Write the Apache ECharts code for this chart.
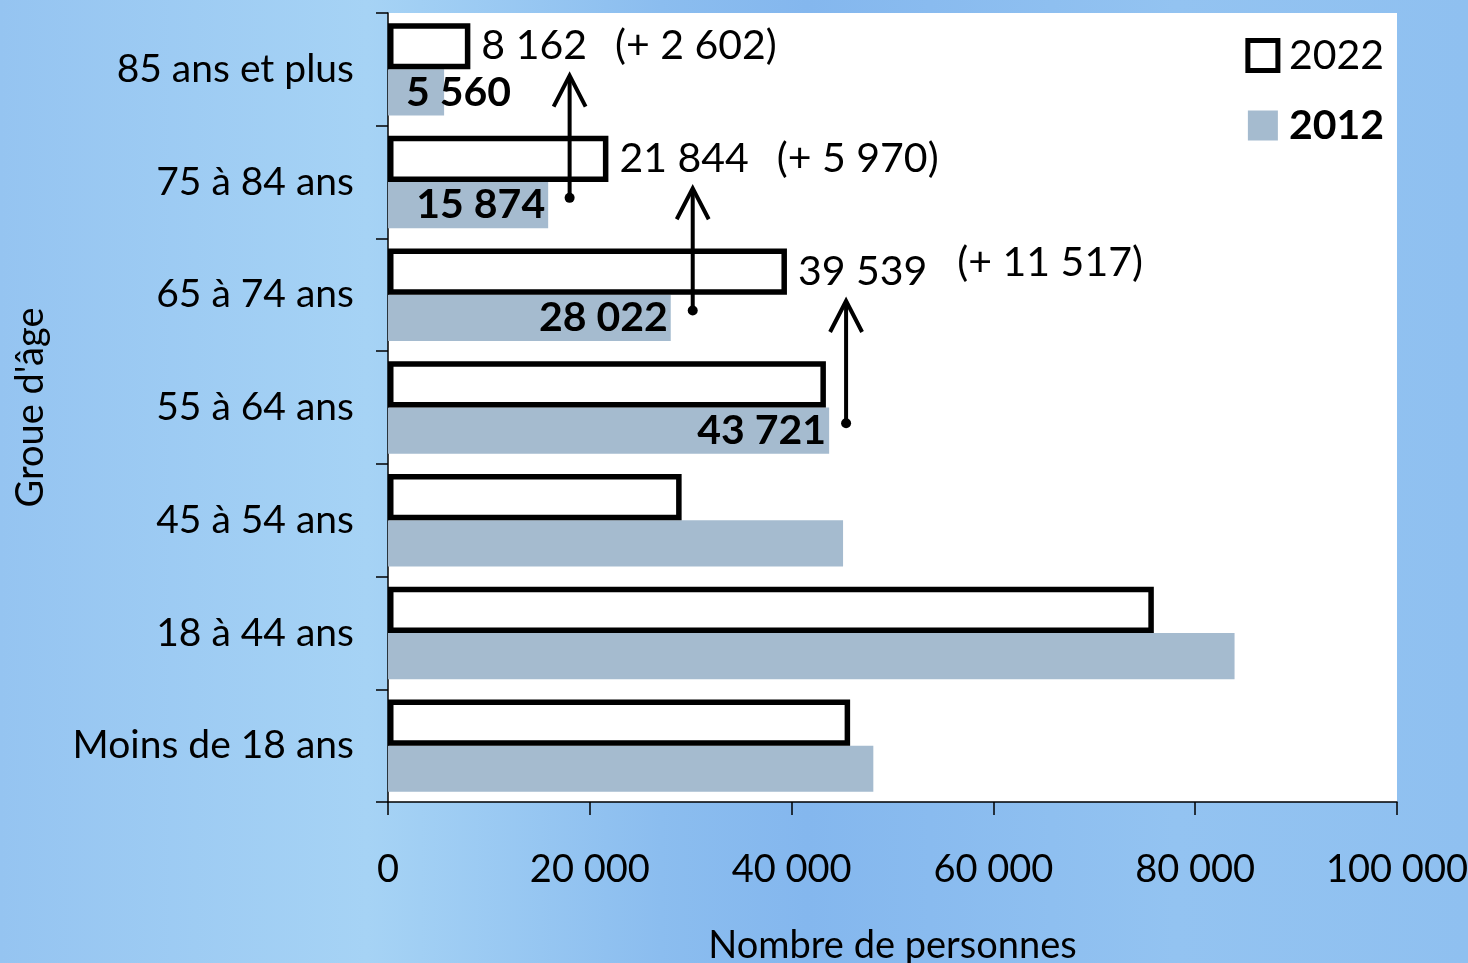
<!DOCTYPE html>
<html lang="fr">
<head>
<meta charset="utf-8">
<title>Groupes d'âge 2012 / 2022</title>
<script src="https://cdn.jsdelivr.net/npm/echarts@6.0.0/dist/echarts.min.js"></script>
<style>
  html, body { margin: 0; padding: 0; }
  body {
    width: 1468px; height: 963px; overflow: hidden;
    background: linear-gradient(90deg, #95c4f1 0%, #a6d3f5 25%, #8bbdef 45%, #84b7ee 55%, #93c3f1 80%, #8fc0f0 100%);
  }
  #chart { width: 1468px; height: 963px; }
</style>
</head>
<body>
<div id="chart"></div>
<script>
// Age groups, listed from top to bottom
const categories = ['85 ans et plus', '75 à 84 ans', '65 à 74 ans', '55 à 64 ans', '45 à 54 ans', '18 à 44 ans', 'Moins de 18 ans'];
// Number of people per age group
const values2022 = [8162, 21844, 39539, 43400, 29100, 75900, 45800];
const values2012 = [5560, 15874, 28022, 43721, 45100, 83900, 48100];
// Groups whose values are labelled (indices into categories)
const labelled2022 = [0, 1, 2];
const labelled2012 = [0, 1, 2, 3];
// Cohort arrows: x position on the value axis, and the 2012 group they start from
const arrowX = [18000, 30200, 45400];
const arrowFrom = [1, 2, 3];
// Axis ticks
const xTicks = [0, 20000, 40000, 60000, 80000, 100000];

const FONT = 'Lato';

function fmt(n) {
  return String(n).replace(/\B(?=(\d{3})+(?!\d))/g, ' ');
}

// Change of a group between 2012 and 2022
function growth(i) {
  return values2022[i] - values2012[i];
}

const data2022 = values2022.map(function (v, i) {
  const item = { value: v };
  if (labelled2022.indexOf(i) >= 0) {
    const upStyle = i === 2 ? 'dUp' : 'd';
    item.label = {
      show: true,
      position: 'right',
      distance: 11,
      formatter: '{v|' + fmt(v) + '}{' + upStyle + '|(+ ' + fmt(growth(i)) + ')}'
    };
  }
  return item;
});

const data2012 = values2012.map(function (v, i) {
  const item = { value: v };
  if (labelled2012.indexOf(i) >= 0) {
    item.label = {
      show: true,
      position: v < 10000 ? 'insideLeft' : 'insideRight',
      distance: v < 10000 ? 18 : 3,
      formatter: fmt(v)
    };
  }
  return item;
});

const arrowData = arrowX.map(function (x, k) { return [x, arrowFrom[k]]; });

const chart = echarts.init(document.getElementById('chart'), null, { renderer: 'canvas' });

chart.setOption({
  backgroundColor: 'transparent',
  animation: false,
  textStyle: { fontFamily: FONT, color: '#000' },
  grid: {
    left: 388, right: 71, top: 13, bottom: 161,
    containLabel: false,
    outerBoundsMode: 'none',
    show: true, backgroundColor: '#ffffff', borderWidth: 0
  },
  legend: {
    orient: 'vertical',
    right: 79,
    top: 30,
    itemWidth: 30,
    itemHeight: 30,
    itemGap: 29,
    icon: 'rect',
    textStyle: { fontFamily: FONT, fontSize: 41, color: '#000', padding: [0, 0, 0, 6] },
    data: [
      { name: '2022', itemStyle: { color: '#ffffff', borderColor: '#000', borderWidth: 5 } },
      { name: '2012', itemStyle: { color: '#a5bbcf', borderWidth: 0 }, textStyle: { fontWeight: 'bold' } }
    ]
  },
  xAxis: {
    type: 'value',
    min: 0,
    max: 100000,
    interval: 20000,
    name: 'Nombre de personnes',
    nameLocation: 'middle',
    nameGap: 125,
    nameTextStyle: { fontFamily: FONT, fontSize: 38, color: '#000', verticalAlign: 'top' },
    axisLine: { show: true, lineStyle: { color: '#000', width: 1.5 } },
    axisTick: { show: true, length: 13, lineStyle: { color: '#000', width: 1.5 } },
    splitLine: { show: false },
    axisLabel: {
      fontFamily: FONT, fontSize: 38, color: '#000', margin: 49,
      formatter: function (v) { return xTicks.indexOf(v) >= 0 ? fmt(v) : ''; }
    }
  },
  yAxis: {
    type: 'category',
    inverse: true,
    data: categories,
    name: "Groue d'âge",
    nameLocation: 'middle',
    nameGap: 338,
    nameTextStyle: { fontFamily: FONT, fontSize: 38, color: '#000' },
    axisLine: { show: true, lineStyle: { color: '#000', width: 1.5 } },
    axisTick: { show: true, length: 12, lineStyle: { color: '#000', width: 1.5 } },
    axisLabel: { fontFamily: FONT, fontSize: 39, color: '#000', margin: 34 }
  },
  series: [
    {
      name: '2022',
      type: 'bar',
      barGap: '0%',
      barCategoryGap: '18%',
      data: data2022,
      itemStyle: { color: '#ffffff', borderColor: '#000', borderWidth: 5.5 },
      label: {
        color: '#000',
        rich: {
          v: { fontFamily: FONT, fontSize: 41, color: '#000' },
          d: { fontFamily: FONT, fontSize: 41, color: '#000', padding: [0, 0, 0, 28] },
          dUp: { fontFamily: FONT, fontSize: 41, color: '#000', padding: [0, 0, 18, 30] }
        }
      },
      z: 3
    },
    {
      name: '2012',
      type: 'bar',
      data: data2012,
      itemStyle: { color: '#a5bbcf' },
      label: { fontFamily: FONT, fontSize: 41, fontWeight: 'bold', color: '#000' },
      z: 2
    },
    {
      name: 'cohortes',
      type: 'custom',
      coordinateSystem: 'cartesian2d',
      encode: { x: 0, y: 1 },
      data: arrowData,
      z: 5,
      renderItem: function (params, api) {
        const x = api.value(0);
        const ci = api.value(1);
        const band = api.size([0, 1])[1];
        const p0 = api.coord([x, ci]);
        const p1 = api.coord([x, ci - 1]);
        const px = p0[0];
        const y0 = p0[1] + 0.14 * band;
        const y1 = p1[1] + 0.055 * band;
        const stroke = { stroke: '#000', lineWidth: 4, fill: null };
        return {
          type: 'group',
          children: [
            { type: 'line', shape: { x1: px, y1: y0, x2: px, y2: y1 + 2 }, style: stroke },
            { type: 'polyline', shape: { points: [[px - 16, y1 + 31], [px, y1], [px + 16, y1 + 31]] }, style: stroke },
            { type: 'circle', shape: { cx: px, cy: y0, r: 5 }, style: { fill: '#000' } }
          ]
        };
      }
    }
  ]
});
</script>
</body>
</html>
